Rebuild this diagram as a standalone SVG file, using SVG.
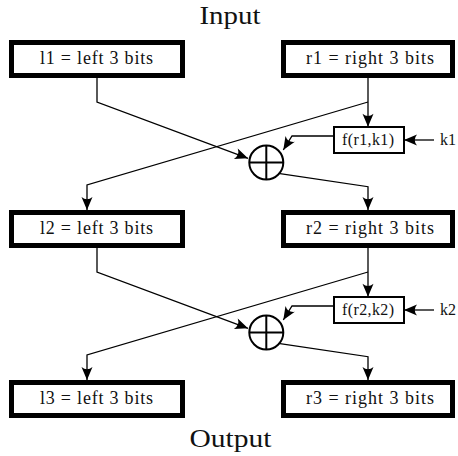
<svg xmlns="http://www.w3.org/2000/svg" width="458" height="456" viewBox="0 0 458 456">
  <style>
    .bits { fill: #fff; stroke: #000; stroke-width: 5; }
    .fbox { fill: #fff; stroke: #000; stroke-width: 2; }
    .xor { fill: #fff; stroke: #000; stroke-width: 2; }
    .wire { fill: none; stroke: #000; stroke-width: 1.3; }
    .arrow { fill: none; stroke: #000; stroke-width: 1.3; marker-end: url(#head); }
    .lbl { font-family: "Liberation Serif", "Times New Roman", serif; font-size: 18px; fill: #111; text-anchor: middle; }
    .flbl { font-family: "Liberation Serif", "Times New Roman", serif; font-size: 16px; fill: #111; text-anchor: middle; }
    .klbl { font-family: "Liberation Serif", "Times New Roman", serif; font-size: 16px; fill: #111; }
    .title { font-family: "Liberation Serif", "Times New Roman", serif; font-size: 25px; fill: #111; text-anchor: middle; }
  </style>
  <defs>
    <marker id="head" markerUnits="userSpaceOnUse" viewBox="-14 -7 15 14" refX="0" refY="0" markerWidth="15" markerHeight="14" orient="auto">
      <path d="M0,0 L-13,-5.5 Q-8.5,0 -13,5.5 Z" fill="#000"/>
    </marker>
  </defs>

  <text class="title" x="230" y="24" textLength="61" lengthAdjust="spacingAndGlyphs">Input</text>
  <text class="title" x="230.5" y="447" textLength="82" lengthAdjust="spacingAndGlyphs">Output</text>

  <!-- connectors -->
  <g id="connectors">
    <!-- round 1 -->
    <polyline class="arrow" points="97,78 97,102 248,158.3"/>
    <line class="arrow" x1="368" y1="78" x2="368" y2="126.7"/>
    <polyline class="arrow" points="368,102 87,185 87,210"/>
    <polyline class="arrow" points="334,136 292,136 283.3,150"/>
    <line class="arrow" x1="434" y1="140" x2="404" y2="140"/>
    <polyline class="arrow" points="278.3,173.3 368,186.7 368,210"/>
    <!-- round 2 -->
    <polyline class="arrow" points="97,248 97,272 248,328.3"/>
    <line class="arrow" x1="368" y1="248" x2="368" y2="296.7"/>
    <polyline class="arrow" points="368,272 87,355 87,380"/>
    <polyline class="arrow" points="334,306 292,306 283.3,320"/>
    <line class="arrow" x1="434" y1="310" x2="404" y2="310"/>
    <polyline class="arrow" points="278.3,343.3 368,356.7 368,380"/>
  </g>

  <!-- row 1 -->
  <g id="l1">
    <rect class="bits" x="11.5" y="42.5" width="171" height="33"/>
    <text class="lbl" x="96.5" y="64" textLength="113" lengthAdjust="spacing">l1 = left 3 bits</text>
  </g>
  <g id="r1">
    <rect class="bits" x="283.5" y="42.5" width="169" height="33"/>
    <text class="lbl" x="370" y="64" textLength="128" lengthAdjust="spacing">r1 = right 3 bits</text>
  </g>
  <g id="f1">
    <rect class="fbox" x="334" y="127" width="70" height="26"/>
    <text class="flbl" x="368" y="145" textLength="52" lengthAdjust="spacing">f(r1,k1)</text>
  </g>
  <g id="k1">
    <text class="klbl" x="440" y="145">k1</text>
  </g>
  <g id="xor1">
    <circle class="xor" cx="266.3" cy="162.5" r="17"/>
    <path class="wire" d="M249.3,162.5 H283.3 M266.3,145.5 V179.5" style="stroke-width:2"/>
  </g>

  <!-- row 2 -->
  <g id="l2">
    <rect class="bits" x="11.5" y="212.5" width="171" height="33"/>
    <text class="lbl" x="96.5" y="234" textLength="113" lengthAdjust="spacing">l2 = left 3 bits</text>
  </g>
  <g id="r2">
    <rect class="bits" x="283.5" y="212.5" width="169" height="33"/>
    <text class="lbl" x="370" y="234" textLength="128" lengthAdjust="spacing">r2 = right 3 bits</text>
  </g>
  <g id="f2">
    <rect class="fbox" x="334" y="297" width="70" height="26"/>
    <text class="flbl" x="368" y="315" textLength="52" lengthAdjust="spacing">f(r2,k2)</text>
  </g>
  <g id="k2">
    <text class="klbl" x="440" y="315">k2</text>
  </g>
  <g id="xor2">
    <circle class="xor" cx="266.3" cy="332.5" r="17"/>
    <path class="wire" d="M249.3,332.5 H283.3 M266.3,315.5 V349.5" style="stroke-width:2"/>
  </g>

  <!-- row 3 -->
  <g id="l3">
    <rect class="bits" x="11.5" y="382.5" width="171" height="33"/>
    <text class="lbl" x="96.5" y="404" textLength="113" lengthAdjust="spacing">l3 = left 3 bits</text>
  </g>
  <g id="r3">
    <rect class="bits" x="283.5" y="382.5" width="169" height="33"/>
    <text class="lbl" x="370" y="404" textLength="128" lengthAdjust="spacing">r3 = right 3 bits</text>
  </g>
</svg>
